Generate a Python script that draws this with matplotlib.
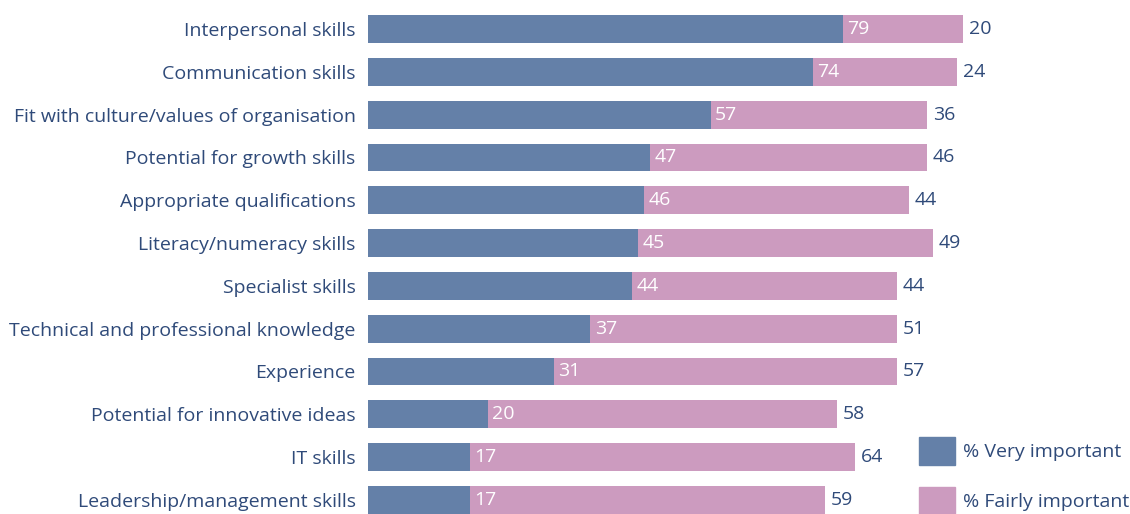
import matplotlib.pyplot as plt
from matplotlib.patches import Patch

skills = [
    "Interpersonal skills",
    "Communication skills",
    "Fit with culture/values of organisation",
    "Potential for growth skills",
    "Appropriate qualifications",
    "Literacy/numeracy skills",
    "Specialist skills",
    "Technical and professional knowledge",
    "Experience",
    "Potential for innovative ideas",
    "IT skills",
    "Leadership/management skills",
]
very_important = [79, 74, 57, 47, 46, 45, 44, 37, 31, 20, 17, 17]
fairly_important = [20, 24, 36, 46, 44, 49, 44, 51, 57, 58, 64, 59]

BLUE = "#6480a8"
PINK = "#cc9bbf"
TEXT = "#2f4a79"
FS = 14

plt.rcParams["font.family"] = ["Open Sans", "DejaVu Sans"]


def main():
    fig = plt.figure(figsize=(11.3, 5.14), dpi=100)
    ax = fig.add_axes([368 / 1130, 0, 1 - 368 / 1130, 1])

    y = list(range(len(skills)))
    ax.barh(y, very_important, height=0.65, color=BLUE)
    ax.barh(y, fairly_important, left=very_important, height=0.65, color=PINK)

    for i, (v, f) in enumerate(zip(very_important, fairly_important)):
        ax.text(v + 0.7, i, str(v), color="white", fontsize=FS,
                ha="left", va="center")
        ax.text(v + f + 1.0, i, str(f), color=TEXT, fontsize=FS,
                ha="left", va="center")

    ax.set_xlim(0, 762 / 6.01)
    ax.set_ylim(11.33, -0.678)
    ax.set_yticks(y)
    ax.set_yticklabels(skills, fontsize=FS, color=TEXT)
    ax.tick_params(axis="y", length=0, pad=9)
    ax.set_xticks([])
    for spine in ax.spines.values():
        spine.set_visible(False)

    handles = [Patch(color=BLUE), Patch(color=PINK)]
    ax.legend(handles, ["% Very important", "% Fairly important"],
              loc="lower left", bbox_to_anchor=((919 - 368) / 762, -0.002),
              frameon=False, fontsize=FS, labelcolor=TEXT,
              handlelength=1.86, handleheight=1.86, handletextpad=0.4,
              labelspacing=1.12, borderpad=0, borderaxespad=0)

    fig.savefig("out.png", dpi=100)
    plt.close(fig)


if __name__ == "__main__":
    main()
